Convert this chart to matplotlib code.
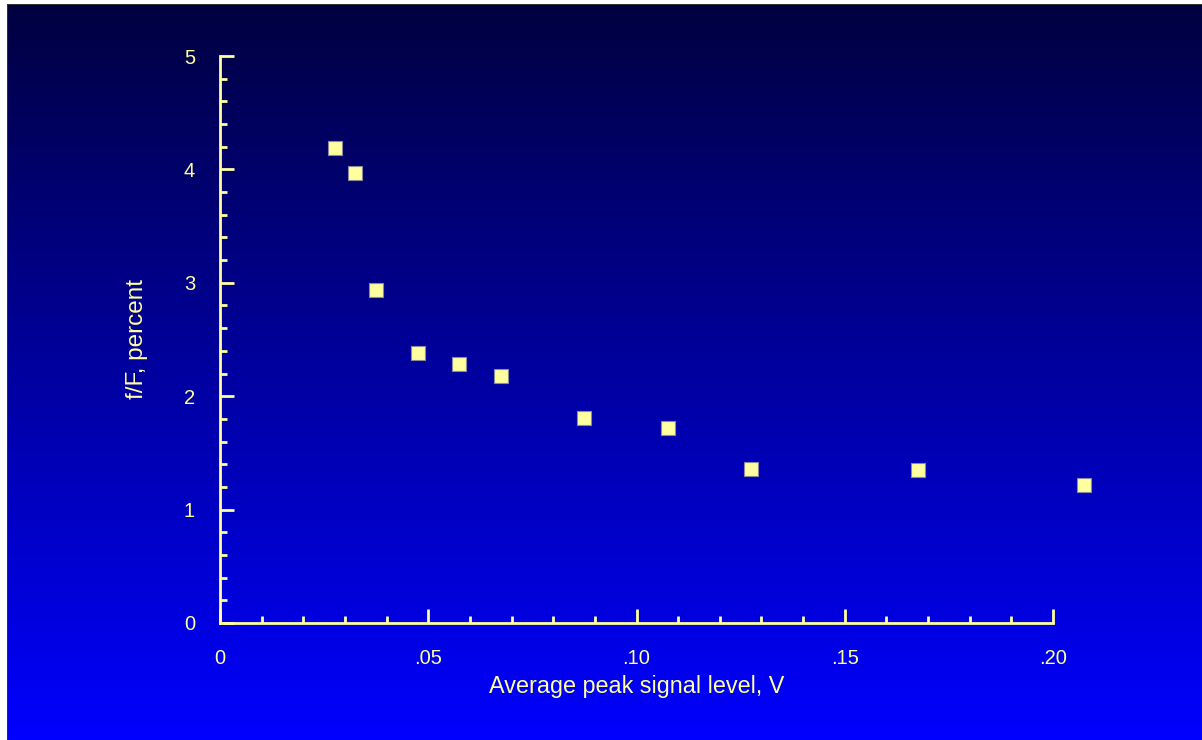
import numpy as np
import matplotlib
matplotlib.use("Agg")
import matplotlib.pyplot as plt
from matplotlib.ticker import MultipleLocator, FixedLocator

# Measured distortion ratio versus average peak signal level
signal_v = [0.0275, 0.0325, 0.0375, 0.0475, 0.0575, 0.0675, 0.0875, 0.1075, 0.1275, 0.1675, 0.2075]
ratio_pct = [4.19, 3.97, 2.94, 2.38, 2.28, 2.18, 1.81, 1.72, 1.36, 1.35, 1.22]

x_ticks = [0, 0.05, 0.10, 0.15, 0.20]
x_tick_labels = ["0", ".05", ".10", ".15", ".20"]
y_ticks = [0, 1, 2, 3, 4, 5]
y_tick_labels = ["0", "1", "2", "3", "4", "5"]

W, H = 1202, 740
fg = "#FFFFA0"
plt.rcParams["font.family"] = ["Liberation Sans", "DejaVu Sans"]

fig = plt.figure(figsize=(W / 100, H / 100), dpi=100)
fig.patch.set_facecolor("white")

# Vertical navy-to-blue gradient backdrop, with a thin white margin top and left
bg = fig.add_axes([7 / W, 0, 1 - 7 / W, 1 - 4 / H])
t = np.linspace(0, 1, 512)[:, None]
top = np.array([0, 0, 64]) / 255
bottom = np.array([0, 0, 255]) / 255
grad = top[None, None, :] * (1 - t[..., None]) + bottom[None, None, :] * t[..., None]
grad = np.repeat(grad, 2, axis=1)
bg.imshow(grad, aspect="auto", extent=[0, 1, 0, 1], origin="upper")
bg.axhline(1, color="#303030", lw=1.5)
bg.axvline(0, color="#303030", lw=1.5)
bg.set_axis_off()

x0, x1 = 220, 1053
y0, y1 = 623, 56
ax = fig.add_axes([x0 / W, 1 - y0 / H, (x1 - x0) / W, (y0 - y1) / H])
ax.patch.set_alpha(0)
ax.set_xlim(0, 0.20)
ax.set_ylim(0, 5)

ax.scatter(signal_v, ratio_pct, marker="s", s=95, color=fg, edgecolors="#8a8a9a",
           linewidths=0.8, clip_on=False, zorder=5)

for side in ("top", "right"):
    ax.spines[side].set_visible(False)
for side in ("left", "bottom"):
    ax.spines[side].set_color(fg)
    ax.spines[side].set_linewidth(2)

ax.xaxis.set_major_locator(FixedLocator(x_ticks))
ax.set_xticklabels(x_tick_labels)
ax.xaxis.set_minor_locator(MultipleLocator(0.01))
ax.yaxis.set_major_locator(FixedLocator(y_ticks))
ax.set_yticklabels(y_tick_labels)
ax.yaxis.set_minor_locator(MultipleLocator(0.2))

ax.tick_params(which="major", direction="in", length=10, width=2, color=fg,
               labelcolor=fg, labelsize=14.5)
ax.tick_params(which="minor", direction="in", length=5, width=2, color=fg)
ax.tick_params(axis="x", which="major", pad=19)
ax.tick_params(axis="y", which="major", pad=18)

ax.set_xlabel("Average peak signal level, V", color=fg, fontsize=16.8, labelpad=5)
ax.set_ylabel("f/F, percent", color=fg, fontsize=17.5, labelpad=26)

fig.savefig("out.png", dpi=100)
